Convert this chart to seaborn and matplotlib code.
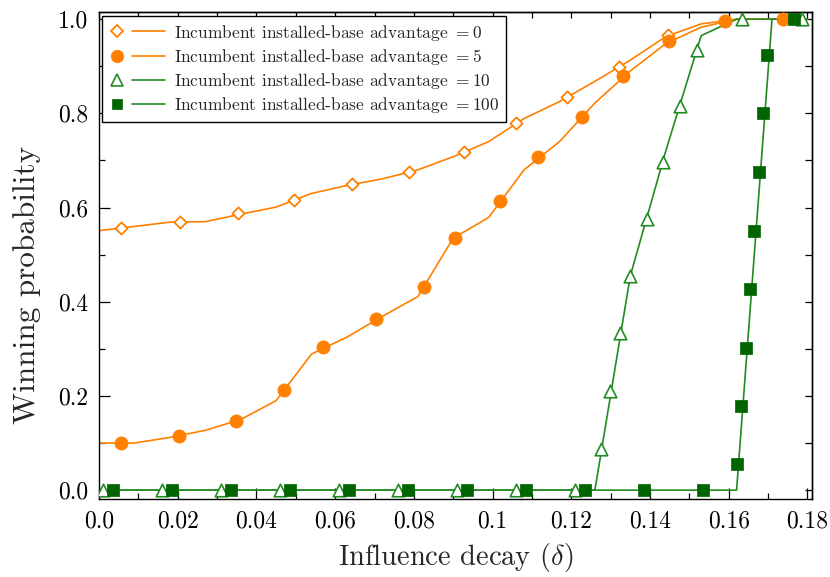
import matplotlib
matplotlib.use("Agg")
import matplotlib.pyplot as plt
import seaborn as sns
from matplotlib.lines import Line2D
from matplotlib.legend_handler import HandlerBase
from matplotlib.ticker import MultipleLocator

# ---------------- data ----------------
advantages = [0, 5, 10, 100]

# dense grid used for the connecting lines
delta_grid = [0.000, 0.009, 0.018, 0.027, 0.036, 0.045, 0.054, 0.063, 0.072, 0.081,
              0.090, 0.099, 0.108, 0.117, 0.126, 0.135, 0.144, 0.153, 0.162, 0.171, 0.180]
line_adv0 = [0.551, 0.560, 0.569, 0.570, 0.586, 0.601, 0.630, 0.647, 0.661, 0.680,
             0.708, 0.740, 0.789, 0.825, 0.868, 0.913, 0.963, 0.990, 1.000, 1.000, 1.000]
line_adv5 = [0.100, 0.100, 0.112, 0.127, 0.150, 0.190, 0.289, 0.325, 0.369, 0.411,
             0.535, 0.579, 0.680, 0.740, 0.822, 0.890, 0.948, 0.983, 1.000, 1.000, 1.000]
line_adv10 = [0.000, 0.000, 0.000, 0.000, 0.000, 0.000, 0.000, 0.000, 0.000, 0.000,
              0.000, 0.000, 0.000, 0.000, 0.000, 0.455, 0.720, 0.965, 1.000, 1.000, 1.000]
line_adv100 = [0.000, 0.000, 0.000, 0.000, 0.000, 0.000, 0.000, 0.000, 0.000, 0.000,
               0.000, 0.000, 0.000, 0.000, 0.000, 0.000, 0.000, 0.000, 0.000, 1.000, 1.000]

# marker points
mk_x_adv0 = [0.0056, 0.0206, 0.0352, 0.0496, 0.0642, 0.0788, 0.0928, 0.1059, 0.1190, 0.1322, 0.1445]
mk_y_adv0 = [0.556, 0.570, 0.588, 0.616, 0.650, 0.675, 0.719, 0.779, 0.834, 0.899, 0.966]

mk_x_adv5 = [0.0056, 0.0203, 0.0348, 0.0471, 0.0570, 0.0703, 0.0825, 0.0905, 0.1019, 0.1116,
             0.1227, 0.1332, 0.1449, 0.1591, 0.1739]
mk_y_adv5 = [0.100, 0.115, 0.147, 0.213, 0.303, 0.363, 0.431, 0.535, 0.614, 0.707,
             0.793, 0.879, 0.954, 0.997, 1.000]

mk_x_adv10 = [0.001, 0.016, 0.031, 0.046, 0.061, 0.076, 0.091, 0.106, 0.121,
              0.1275, 0.1299, 0.1325, 0.1350, 0.1392, 0.1432, 0.1475, 0.1519, 0.1633, 0.1787]
mk_y_adv10 = [0.0, 0.0, 0.0, 0.0, 0.0, 0.0, 0.0, 0.0, 0.0,
              0.0875, 0.211, 0.334, 0.455, 0.576, 0.696, 0.815, 0.935, 1.0, 1.0]

mk_x_adv100 = [0.0035, 0.0185, 0.0335, 0.0485, 0.0635, 0.0785, 0.0935, 0.1085, 0.1235, 0.1385,
               0.1535, 0.1621, 0.1632, 0.1643, 0.1654, 0.1665, 0.1677, 0.1687, 0.1698, 0.1765]
mk_y_adv100 = [0.0, 0.0, 0.0, 0.0, 0.0, 0.0, 0.0, 0.0, 0.0, 0.0,
               0.0, 0.055, 0.179, 0.3025, 0.4265, 0.551, 0.675, 0.800, 0.924, 1.0]

x_tick_values = [0.0, 0.02, 0.04, 0.06, 0.08, 0.10, 0.12, 0.14, 0.16, 0.18]
x_tick_labels = ["0.0", "0.02", "0.04", "0.06", "0.08", "0.1", "0.12", "0.14", "0.16", "0.18"]
y_tick_values = [0.0, 0.2, 0.4, 0.6, 0.8, 1.0]
y_tick_labels = ["0.0", "0.2", "0.4", "0.6", "0.8", "1.0"]

# ---------------- style ----------------
sns.set_theme(style="ticks")
plt.rcParams.update({
    "font.family": ["cmr10"],
    "mathtext.fontset": "cm",
    "axes.formatter.use_mathtext": True,
    "axes.unicode_minus": False,
    "axes.edgecolor": "black",
    "axes.linewidth": 1.0,
})

ORANGE = "#FF8000"
GREEN = "#228B22"
DKGREEN = "#006400"

fig = plt.figure(figsize=(8.3, 5.77), dpi=100)
ax = fig.add_axes([0.1193, 0.135, 0.8587, 0.844])

series = [
    dict(line=line_adv0, mx=mk_x_adv0, my=mk_y_adv0, lc=ORANGE, marker="D", ms=6.2,
         fc="white", ec=ORANGE, mew=1.3),
    dict(line=line_adv5, mx=mk_x_adv5, my=mk_y_adv5, lc=ORANGE, marker="o", ms=9.5,
         fc=ORANGE, ec=ORANGE, mew=0.5),
    dict(line=line_adv10, mx=mk_x_adv10, my=mk_y_adv10, lc=GREEN, marker="^", ms=9.0,
         fc="white", ec=GREEN, mew=1.2),
    dict(line=line_adv100, mx=mk_x_adv100, my=mk_y_adv100, lc=GREEN, marker="s", ms=8.2,
         fc=DKGREEN, ec=DKGREEN, mew=0.5),
]

for s in series:
    sns.lineplot(x=delta_grid, y=s["line"], color=s["lc"], linewidth=1.2, ax=ax,
                 estimator=None, sort=False, zorder=2, legend=False)

for i, s in enumerate(series):
    sns.scatterplot(x=s["mx"], y=s["my"], marker=s["marker"], s=s["ms"] ** 2,
                    color=s["fc"], edgecolor=s["ec"], linewidth=s["mew"], ax=ax,
                    zorder=3 + i, legend=False)

ax.set_xlim(0.0, 0.1811)
ax.set_ylim(-0.019, 1.015)

ax.set_xticks(x_tick_values)
ax.set_xticklabels(x_tick_labels)
ax.set_yticks(y_tick_values)
ax.set_yticklabels(y_tick_labels)
ax.xaxis.set_minor_locator(MultipleLocator(0.01))
ax.yaxis.set_minor_locator(MultipleLocator(0.1))
ax.tick_params(axis="both", which="major", direction="in", length=8, width=0.9,
               colors="black", labelsize=17, pad=8)
ax.tick_params(axis="both", which="minor", direction="in", length=4, width=0.9,
               colors="black")
ax.tick_params(top=False, right=False, which="both")

sec_x = ax.secondary_xaxis("top")
sec_x.xaxis.set_major_locator(MultipleLocator(0.01))
sec_x.tick_params(direction="in", length=4, width=0.9, labeltop=False, colors="black")
sec_y = ax.secondary_yaxis("right")
sec_y.yaxis.set_major_locator(MultipleLocator(0.1))
sec_y.tick_params(direction="in", length=5, width=0.9, labelright=False, colors="black")

for sp in ax.spines.values():
    sp.set_color("black")
    sp.set_linewidth(1.0)

ax.set_xlabel(r"Influence decay ($\delta$)", fontsize=20.5, labelpad=6)
ax.set_ylabel("Winning probability", fontsize=22.5, labelpad=10)
ax.yaxis.set_label_coords(-0.082, 0.44)


class MarkerThenLine(HandlerBase):
    def create_artists(self, legend, orig_handle, xdescent, ydescent, width, height,
                       fontsize, trans):
        y = height / 2.0 - ydescent
        x0 = -xdescent
        mk = Line2D([x0 + 0.14 * width], [y], linestyle="none",
                    marker=orig_handle.get_marker(),
                    markersize=orig_handle.get_markersize() * 0.95,
                    markerfacecolor=orig_handle.get_markerfacecolor(),
                    markeredgecolor=orig_handle.get_markeredgecolor(),
                    markeredgewidth=orig_handle.get_markeredgewidth())
        ln = Line2D([x0 + 0.41 * width, x0 + width], [y, y],
                    color=orig_handle.get_color(), linewidth=orig_handle.get_linewidth())
        mk.set_transform(trans)
        ln.set_transform(trans)
        return [mk, ln]


handles = []
labels = []
for adv, s in zip(advantages, series):
    handles.append(Line2D([], [], color=s["lc"], linewidth=1.2, marker=s["marker"],
                          markersize=s["ms"], markerfacecolor=s["fc"],
                          markeredgecolor=s["ec"], markeredgewidth=s["mew"]))
    labels.append(f"Incumbent installed-base advantage $= {adv}$")

leg = ax.legend(handles, labels, loc="upper left", handler_map={Line2D: MarkerThenLine()},
                fontsize=12.5, frameon=True, fancybox=False, framealpha=1.0,
                edgecolor="black", handlelength=3.2, handletextpad=0.5,
                labelspacing=0.24, borderpad=0.4, borderaxespad=0.2)
leg.get_frame().set_linewidth(1.0)
leg.set_zorder(10)

fig.savefig("out.png", dpi=100)
